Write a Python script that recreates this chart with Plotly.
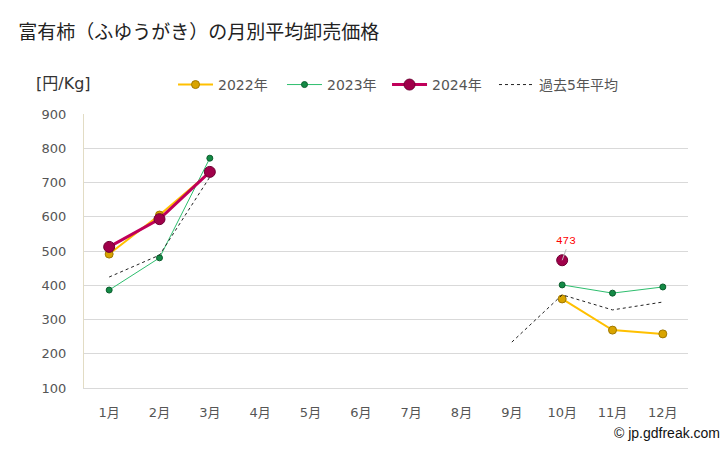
import plotly.graph_objects as go

months = ["1月", "2月", "3月", "4月", "5月", "6月", "7月", "8月", "9月", "10月", "11月", "12月"]
y2022 = [491, 605, 730, None, None, None, None, None, None, 360, 269, 258]
y2023 = [386, 480, 771, None, None, None, None, None, None, 401, 377, 395]
y2024 = [512, 593, 731, None, None, None, None, None, None, 473, None, None]
avg5 = [424, 488, 716, None, None, None, None, None, 234, 372, 328, 351]
yticks = [100, 200, 300, 400, 500, 600, 700, 800, 900]

JP = "Noto Sans CJK JP, DejaVu Sans, sans-serif"
NUM = "DejaVu Sans, Noto Sans CJK JP, sans-serif"

x = list(range(1, 13))
fig = go.Figure()
fig.add_trace(go.Scatter(x=x, y=y2022, name="2022年", mode="lines+markers", legend="legend",
                         line=dict(color="#FFC000", width=2),
                         marker=dict(color="#D9A400", size=8, line=dict(color="#A07800", width=1))))
fig.add_trace(go.Scatter(x=x, y=y2023, name="2023年", mode="lines+markers", legend="legend2",
                         line=dict(color="#2EBE6E", width=1),
                         marker=dict(color="#138A45", size=6, line=dict(color="#0B5E2E", width=1))))
fig.add_trace(go.Scatter(x=x, y=y2024, name="2024年", mode="lines+markers", legend="legend3",
                         line=dict(color="#C0005A", width=3),
                         marker=dict(color="#A0004A", size=11, line=dict(color="#6E0033", width=1))))
fig.add_trace(go.Scatter(x=x, y=avg5, name="過去5年平均", mode="lines", legend="legend4",
                         line=dict(color="#222222", width=1, dash="dot")))

fig.add_annotation(x=10, y=y2024[9], text="473", showarrow=True, arrowhead=0,
                   arrowcolor="#BBBBBB", arrowwidth=1, ax=4, ay=-11,
                   font=dict(color="#FF0000", size=11, family="Liberation Mono, monospace"),
                   yanchor="bottom")


def leg(xpos):
    return dict(orientation="h", x=xpos, xanchor="left", y=1.106, yanchor="middle",
                font=dict(family=NUM, size=14, color="#555555"),
                itemwidth=35, tracegroupgap=0, bgcolor="rgba(0,0,0,0)")


fig.update_layout(
    width=728, height=450,
    margin=dict(l=76, r=48, t=106, b=70),
    paper_bgcolor="white", plot_bgcolor="white",
    title=dict(text="富有柿（ふゆうがき）の月別平均卸売価格", x=0.014, xanchor="left",
               y=0.947, yanchor="middle",
               font=dict(family=JP, size=19, color="#222222")),
    showlegend=True,
    legend=leg(0.1474), legend2=leg(0.3278), legend3=leg(0.5017), legend4=leg(0.6788),
    font=dict(family=NUM),
)
fig.update_xaxes(range=[0.5, 12.5], tickmode="array", tickvals=x, ticktext=months,
                 showgrid=False, showline=True, linecolor="#D9D9D9", linewidth=1,
                 ticks="", ticklabelstandoff=12, tickfont=dict(family=NUM, size=13, color="#555555"),
                 zeroline=False)
fig.update_yaxes(range=[100, 900], tickmode="array", tickvals=yticks,
                 showgrid=True, gridcolor="#D9D9D9", gridwidth=1,
                 showline=True, linecolor="#E2DCC4", linewidth=1,
                 ticks="", ticklabelstandoff=14,
                 tickfont=dict(family=NUM, size=13, color="#555555"), zeroline=False)

fig.add_annotation(xref="paper", yref="paper", x=-0.082, y=1.113, xanchor="left", yanchor="middle",
                   text="[円/Kg]", showarrow=False,
                   font=dict(family=NUM, size=16, color="#333333"))
fig.add_annotation(xref="paper", yref="paper", x=1.056, y=-0.165, xanchor="right", yanchor="middle",
                   text="© jp.gdfreak.com", showarrow=False,
                   font=dict(family="Liberation Sans, Arial, sans-serif", size=14, color="#111111"))

fig.write_html("out.html")
